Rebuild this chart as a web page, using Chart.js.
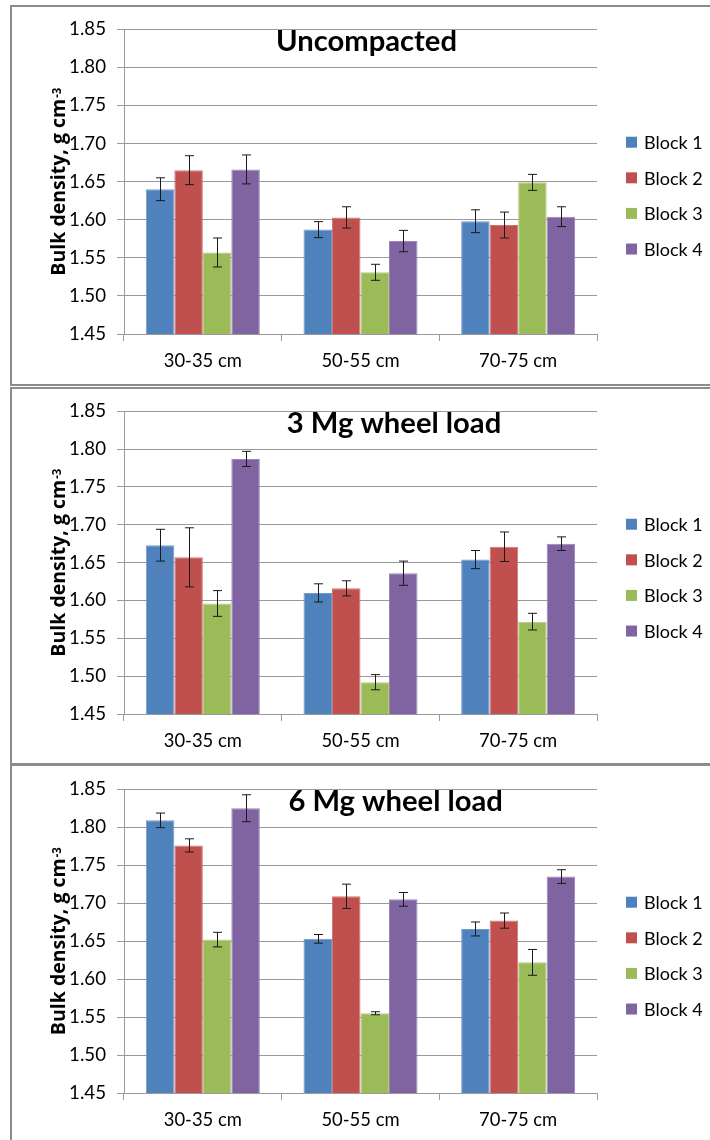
<!DOCTYPE html>
<html lang="en">
<head>
  <meta charset="UTF-8">
  <title>Bulk density by block</title>
  <script src="https://cdn.jsdelivr.net/npm/chart.js"></script>
  <style>
    html, body { margin: 0; padding: 0; background: #fff; }
    body { width: 710px; height: 1140px; position: relative; overflow: hidden; }
    .panel { position: absolute; left: 10px; width: 720px; box-sizing: border-box; border: 2px solid #8c8c8c; }
    canvas { position: absolute; left: 12px; }
  </style>
</head>
<body>

<div class="panel" style="top:5px; height:381px;"></div>
<div class="panel" style="top:387px; height:378px;"></div>
<div class="panel" style="top:764px; height:400px;"></div>

<canvas id="chart1" width="698" height="376" style="top:7px;"></canvas>
<canvas id="chart2" width="698" height="374" style="top:389px;"></canvas>
<canvas id="chart3" width="698" height="375" style="top:767px;"></canvas>

<script>
  const categories = ['30-35 cm', '50-55 cm', '70-75 cm'];
  const blocks = ['Block 1', 'Block 2', 'Block 3', 'Block 4'];
  const blockColors = ['#4f81bd', '#c0504d', '#9bbb59', '#8064a2'];
  const blockEdges = ['#7399cb', '#d07774', '#b2cb7f', '#9985b6'];
  const yTicks = [1.45, 1.50, 1.55, 1.60, 1.65, 1.70, 1.75, 1.80, 1.85];

  // Uncompacted
  const uncompacted = [
    [1.640, 1.587, 1.598],
    [1.665, 1.603, 1.593],
    [1.557, 1.531, 1.649],
    [1.666, 1.572, 1.604]
  ];
  const uncompactedErr = [
    [0.015, 0.0105, 0.015],
    [0.019, 0.014, 0.017],
    [0.019, 0.0105, 0.0105],
    [0.019, 0.014, 0.013]
  ];

  // 3 Mg wheel load
  const load3 = [
    [1.673, 1.610, 1.654],
    [1.657, 1.616, 1.671],
    [1.596, 1.492, 1.572],
    [1.787, 1.636, 1.675]
  ];
  const load3Err = [
    [0.021, 0.012, 0.012],
    [0.039, 0.010, 0.0195],
    [0.017, 0.010, 0.011],
    [0.010, 0.016, 0.009]
  ];

  // 6 Mg wheel load
  const load6 = [
    [1.809, 1.653, 1.666],
    [1.776, 1.709, 1.677],
    [1.652, 1.555, 1.622],
    [1.825, 1.705, 1.735]
  ];
  const load6Err = [
    [0.0096, 0.0057, 0.0092],
    [0.0087, 0.016, 0.010],
    [0.0096, 0.002, 0.017],
    [0.0177, 0.009, 0.009]
  ];

  const FONT = 'Lato, "Open Sans", sans-serif';
  const YTITLE_FONT = '"Open Sans", Lato, sans-serif';
  const gridColor = '#9a9a9a';

  // error bars, title inside plot, rotated y title with superscript, legend on the right
  const decorations = {
    id: 'decorations',
    afterDatasetsDraw(chart, args, opts) {
      const ctx = chart.ctx;
      const y = chart.scales.y;
      ctx.save();
      ctx.strokeStyle = '#1a1a1a';
      ctx.lineWidth = 1;
      chart.data.datasets.forEach((ds, i) => {
        chart.getDatasetMeta(i).data.forEach((bar, j) => {
          const v = ds.data[j], e = ds.errors[j];
          const x = Math.round(bar.x) + 0.5;
          const top = y.getPixelForValue(v + e), bot = y.getPixelForValue(v - e);
          ctx.beginPath();
          ctx.moveTo(x, top); ctx.lineTo(x, bot);
          ctx.moveTo(x - 4.5, top); ctx.lineTo(x + 4.5, top);
          ctx.moveTo(x - 4.5, bot); ctx.lineTo(x + 4.5, bot);
          ctx.stroke();
        });
      });
      ctx.restore();
    },
    afterDraw(chart, args, opts) {
      const ctx = chart.ctx;
      const area = chart.chartArea;
      ctx.save();
      // title
      ctx.fillStyle = '#000';
      ctx.font = 'bold 29.2px ' + FONT;
      ctx.textAlign = 'center';
      ctx.textBaseline = 'alphabetic';
      ctx.fillText(opts.title, opts.titleX, area.top + 22);

      // y axis title
      const main = 'Bulk density, g cm', sup = '-3';
      ctx.font = 'bold 19.5px ' + YTITLE_FONT;
      const wMain = ctx.measureText(main).width;
      ctx.font = 'bold 11.5px ' + YTITLE_FONT;
      const wSup = ctx.measureText(sup).width;
      const total = wMain + 1 + wSup;
      ctx.translate(46, (area.top + area.bottom) / 2);
      ctx.rotate(-Math.PI / 2);
      ctx.textAlign = 'left';
      ctx.font = 'bold 19.5px ' + YTITLE_FONT;
      ctx.fillText(main, -total / 2, 7);
      ctx.font = 'bold 11.5px ' + YTITLE_FONT;
      ctx.fillText(sup, -total / 2 + wMain + 1, 3);
      ctx.setTransform(1, 0, 0, 1, 0, 0);

      // legend
      ctx.font = '18px ' + FONT;
      ctx.textAlign = 'left';
      ctx.textBaseline = 'middle';
      chart.data.datasets.forEach((ds, i) => {
        const cy = area.top + 113 + i * 35.6;
        ctx.fillStyle = ds.backgroundColor;
        ctx.fillRect(area.right + 29, cy - 5.5, 11, 11);
        ctx.fillStyle = '#000';
        ctx.fillText(ds.label, area.right + 47, cy + 1);
      });
      ctx.restore();
    }
  };

  function makeChart(id, title, titleX, padTop, values, errors) {
    new Chart(document.getElementById(id), {
      type: 'bar',
      data: {
        labels: categories,
        datasets: blocks.map((b, i) => ({
          label: b,
          data: values[i],
          errors: errors[i],
          backgroundColor: blockColors[i],
          borderColor: blockEdges[i],
          borderWidth: 1,
          barPercentage: 1,
          categoryPercentage: 0.723
        }))
      },
      options: {
        responsive: false,
        animation: false,
        layout: { padding: { top: padTop, right: 113, left: 0, bottom: 0 } },
        plugins: {
          legend: { display: false },
          tooltip: { enabled: false },
          decorations: { title: title, titleX: titleX }
        },
        scales: {
          x: {
            offset: true,
            grid: { offset: true, drawOnChartArea: false, drawTicks: true, tickLength: 7, color: gridColor },
            border: { color: gridColor },
            ticks: { color: '#000', font: { family: FONT, size: 18.4 }, padding: 9, maxRotation: 0 },
            afterFit: s => { s.height = 49; }
          },
          y: {
            min: 1.45,
            max: 1.85,
            afterBuildTicks: axis => { axis.ticks = yTicks.map(v => ({ value: v })); },
            grid: { color: gridColor, tickLength: 7 },
            border: { color: gridColor },
            ticks: { color: '#000', font: { family: FONT, size: 18.7 }, padding: 11,
                     callback: v => v.toFixed(2) },
            afterFit: s => { s.width = 112; }
          }
        }
      },
      plugins: [decorations]
    });
  }

  // title x positions are in canvas coordinates (canvas starts 12px from the page edge)
  makeChart('chart1', 'Uncompacted', 354.5, 21.3, uncompacted, uncompactedErr);
  makeChart('chart2', '3 Mg wheel load', 382, 20.3, load3, load3Err);
  makeChart('chart3', '6 Mg wheel load', 383.7, 20.7, load6, load6Err);
</script>
</body>
</html>
